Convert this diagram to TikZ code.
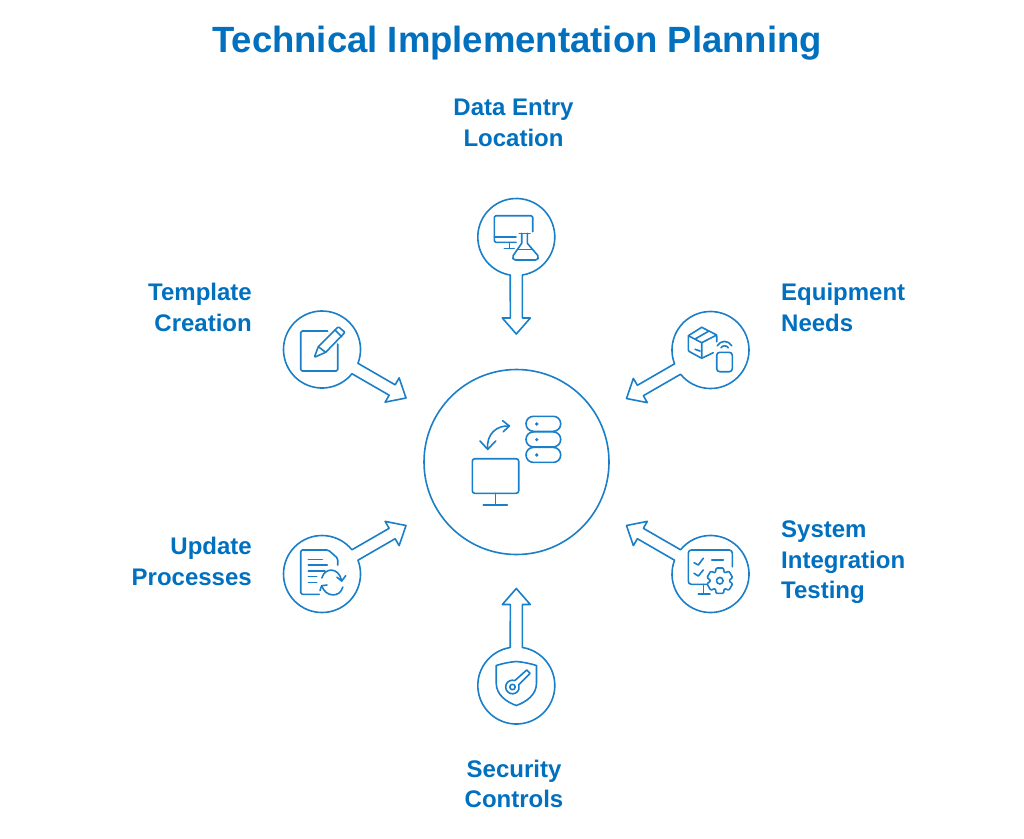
\documentclass[tikz,border=0pt]{standalone}
\usepackage{fontspec}
\setmainfont{Liberation Sans}
\definecolor{brand}{HTML}{0070BF}
\definecolor{linecol}{HTML}{1A7FC8}
\tikzset{
  outline/.style={draw=linecol,line width=1.6pt,line join=round},
  icon/.style={draw=linecol,line width=1.6pt,line join=round,line cap=round},
  dotmark/.style={fill=linecol,draw=none},
  titletext/.style={text=brand,inner sep=0pt,font=\fontsize{36.5}{40}\selectfont\bfseries},
  label/.style={text=brand,inner sep=0pt,font=\fontsize{24}{30.5}\selectfont\bfseries},
  rlabel/.style={label,align=right,anchor=east},
  llabel/.style={label,align=left,anchor=west},
  clabel/.style={label,align=center,anchor=center}
}
\newcommand{\balloon}[4]{%
  \coordinate (#1) at (#2,-#3);
  \draw[outline,shift={(#1)},rotate=#4] (9:38.5) arc[start angle=9,end angle=351,radius=38.5]
    -- (81,-6) -- (81,-14) -- (97,0) -- (81,14) -- (81,6) -- cycle;}
\begin{document}
\begin{tikzpicture}[x=1pt,y=1pt]
\useasboundingbox (0,-838) rectangle (1024,0);
\node[titletext] (title) at (517,-43) {Technical Implementation Planning};
\node[clabel] (data) at (513.5,-123) {Data Entry\\Location};
\node[rlabel] (template) at (252,-307.5) {Template\\Creation};
\node[llabel] (equipment) at (781,-307.5) {Equipment\\Needs};
\node[rlabel] (update) at (252,-561.5) {Update\\Processes};
\node[llabel] (system) at (781,-562.5) {System\\Integration\\Testing};
\node[clabel] (security) at (514,-784) {Security\\Controls};

\node[circle,draw=linecol,line width=1.6pt,minimum size=185pt,inner sep=0pt] (hub) at (516.5,-462) {};
\balloon{top}{516.3}{237}{-90}
\balloon{ur}{710.5}{350}{210}
\balloon{lr}{710.5}{574}{150}
\balloon{bot}{516.3}{685.5}{90}
\balloon{ll}{322}{574}{30}
\balloon{ul}{322}{349.5}{-30}

% hub icon
\draw[icon,rounded corners=2.5] (472.3,-458.7) rectangle (518.7,-493.3);
\draw[icon] (495.3,-493.3) -- (495.3,-505) (483.3,-505) -- (507.3,-505);
\draw[icon,rounded corners=7.4] (526,-416.3) rectangle (560.7,-431.3);
\draw[icon,rounded corners=7.4] (526,-431.9) rectangle (560.7,-446.9);
\draw[icon,rounded corners=7.4] (526,-447.4) rectangle (560.7,-462.4);
\path[dotmark] (536.7,-424) circle[radius=1.8] (536.7,-439.6) circle[radius=1.8] (536.7,-455) circle[radius=1.8];
\draw[icon] (509.3,-426) .. controls (497,-425) and (486,-434) .. (487.7,-449.3);
\draw[icon] (502.7,-420.7) -- (509.3,-426) -- (503.3,-431.7);
\draw[icon] (480,-441) -- (487.7,-449.3) -- (495.7,-441);

% data entry icon
\draw[icon,rounded corners=1.5] (516,-242.3) -- (494.3,-242.3) -- (494.3,-215.7) -- (532.7,-215.7) -- (532.7,-231.7);
\draw[icon] (494.3,-236.7) -- (516,-236.7);
\draw[icon] (509.3,-242.3) -- (509.3,-248.3) (504.3,-248.3) -- (514.3,-248.3);
\draw[icon] (519.3,-233.3) -- (530,-233.3);
\draw[icon] (521.7,-233.3) -- (521.7,-243.3) -- (513.2,-255.5)
  .. controls (512,-258) and (513,-260) .. (515.5,-260) -- (535.5,-260)
  .. controls (538,-260) and (539,-258) .. (537.8,-255.5) -- (527.3,-243.3) -- (527.3,-233.3);
\draw[icon] (517.7,-249.3) -- (532.5,-249.3);

% equipment icon
\draw[icon,rounded corners=1] (701.7,-327.3) -- (688.3,-335.7) -- (688.3,-351) -- (701.7,-358.3) -- (713.3,-352.7);
\draw[icon,rounded corners=1] (701.7,-327.3) -- (716.7,-335) -- (716.7,-341.7);
\draw[icon] (688.3,-335.7) -- (701.7,-342.7) -- (716.7,-335) (701.7,-342.7) -- (701.7,-358.3);
\draw[icon] (695,-339) -- (709,-331);
\draw[icon] (695,-349.3) -- (700,-351);
\draw[icon,rounded corners=3] (716.7,-352.3) rectangle (732.3,-371.7);
\draw[icon] (717.3,-345.7) .. controls (721,-340) and (728,-340) .. (731.7,-345.7);
\draw[icon] (721,-347.7) .. controls (722.5,-345.2) and (726.8,-345.2) .. (728.3,-347.7);

% system testing icon
\draw[icon,rounded corners=3] (708,-584.3) -- (688.3,-584.3) -- (688.3,-550) -- (732.3,-550) -- (732.3,-566.7);
\draw[icon] (703.3,-584.3) -- (703.3,-594) (698.3,-594) -- (710,-594);
\draw[icon] (694,-562.7) -- (698.3,-565) -- (703.3,-558.3);
\draw[icon] (694,-573.3) -- (698.3,-576) -- (703.3,-570);
\draw[icon] (711.7,-560) -- (723.3,-560);
\draw[icon,fill=white,rounded corners=1,shift={(719.8,-580.7)}]
  (74:13.2) -- (106:13.2) -- (120:9) -- (134:13.2) -- (166:13.2) -- (180:9) -- (194:13.2) -- (226:13.2) -- (240:9)
  -- (254:13.2) -- (286:13.2) -- (300:9) -- (314:13.2) -- (346:13.2) -- (0:9) -- (14:13.2) -- (46:13.2) -- (60:9) -- cycle;
\draw[icon] (719.8,-580.7) circle[radius=3.3];

% security icon
\draw[icon] (516.3,-661.5) .. controls (523,-662) and (530,-663.5) .. (536.5,-665.5) -- (536.5,-683)
  .. controls (536.5,-695) and (526,-702) .. (516.3,-705.5)
  .. controls (506.6,-702) and (496.2,-695) .. (496.2,-683) -- (496.2,-665.5)
  .. controls (502.5,-663.5) and (509.5,-662) .. (516.3,-661.5) -- cycle;
\draw[icon] (514.8,-680.6) arc[start angle=70,end angle=380,radius=6.8]
  -- (524.5,-679) -- (527.5,-676) -- (530,-673.3) -- (526.7,-670) -- cycle;
\draw[icon] (512.5,-687) circle[radius=2.7];

% update icon
\draw[icon,rounded corners=1.5] (319.3,-594.3) -- (300.7,-594.3) -- (300.7,-550) -- (328.3,-550) -- (337.7,-558.3) -- (337.7,-565);
\draw[icon] (308.3,-559.3) -- (322.3,-559.3) (308.3,-565) -- (327.3,-565)
  (308.3,-570.7) -- (325,-570.7) (308.3,-576.3) -- (316.7,-576.3) (308.3,-582.3) -- (316.7,-582.3);
\draw[icon] (321.8,-578) .. controls (325,-567) and (339,-567) .. (341.7,-581);
\draw[icon] (336.9,-577.2) -- (341.7,-581) -- (345.7,-575.7);
\draw[icon] (342.8,-587) .. controls (340,-598) and (325.5,-597.5) .. (321.7,-585.7);
\draw[icon] (327,-585) -- (321.7,-585.7) -- (320,-590.5);

% template icon
\draw[icon,rounded corners=1.5] (327.7,-331) -- (300.7,-331) -- (300.7,-371) -- (337.7,-371) -- (337.7,-344);
\draw[icon,rounded corners=1] (314.3,-357.3) -- (318.3,-346.7) -- (338.3,-326.7) -- (345,-332.3) -- (325.7,-352.3) -- cycle;
\draw[icon] (318.3,-346.7) -- (325.7,-352.3) (335,-330) -- (341.7,-336.7);
\end{tikzpicture}
\end{document}
